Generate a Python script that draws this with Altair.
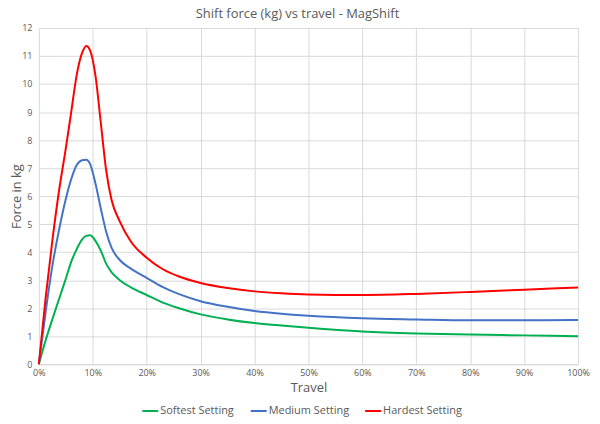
import altair as alt
import pandas as pd

travel = [0, 1.25, 2.5, 3.75, 5, 6, 7, 8, 8.8, 9.5, 10.5, 11.5, 12.5, 13.5, 15, 17,
          20, 23, 26, 30, 35, 40, 45, 50, 60, 70, 80, 90, 100]
softest = [0, 0.85, 1.6, 2.33, 3.05, 3.65, 4.1, 4.45, 4.58, 4.6, 4.4, 4.05, 3.58, 3.28,
           3.0, 2.75, 2.47, 2.2, 2.0, 1.78, 1.6, 1.47, 1.38, 1.3, 1.17, 1.1, 1.06, 1.03, 1.0]
medium = [0, 1.85, 3.5, 4.8, 5.9, 6.6, 7.1, 7.28, 7.3, 7.15, 6.45, 5.55, 4.72, 4.15,
          3.72, 3.42, 3.08, 2.75, 2.5, 2.25, 2.05, 1.9, 1.8, 1.73, 1.64, 1.6, 1.57, 1.57, 1.58]
hardest = [0, 2.35, 4.4, 6.2, 7.7, 9.0, 10.3, 11.1, 11.36, 11.2, 10.3, 8.6, 6.9, 5.85,
           5.1, 4.4, 3.8, 3.39, 3.13, 2.9, 2.72, 2.6, 2.53, 2.49, 2.47, 2.51, 2.58, 2.66, 2.74]

series_names = ["Softest Setting", "Medium Setting", "Hardest Setting"]
series_colors = ["#00B050", "#4472C4", "#FF0000"]
y_ticks = list(range(0, 13))
x_ticks = [i / 10 for i in range(11)]

rows = []
for name, vals in zip(series_names, [softest, medium, hardest]):
    for t, v in zip(travel, vals):
        rows.append({"travel": t / 100, "force": v, "series": name})
df = pd.DataFrame(rows)

FONT = "Open Sans"
GRAY = "#595959"

chart = alt.Chart(df).mark_line(strokeWidth=2, interpolate="monotone").encode(
    x=alt.X("travel:Q",
            scale=alt.Scale(domain=[0, 1], nice=False),
            axis=alt.Axis(values=x_ticks, format=".0%", title="Travel",
                          labelFontSize=9, labelPadding=4, titlePadding=4,
                          labelFlush=False,
                          domainColor="#D9D9D9", ticks=False)),
    y=alt.Y("force:Q",
            scale=alt.Scale(domain=[0, 12], nice=False),
            axis=alt.Axis(values=y_ticks, title="Force in kg",
                          labelFontSize=9, labelPadding=7, titlePadding=-2,
                          labelFlush=False,
                          domain=False, ticks=False)),
    color=alt.Color("series:N",
                    scale=alt.Scale(domain=series_names, range=series_colors),
                    legend=alt.Legend(orient="none", legendX=103, legendY=376,
                                      direction="horizontal", title=None,
                                      symbolType="stroke", symbolSize=256,
                                      symbolStrokeWidth=2, labelFontSize=11,
                                      labelOffset=1, columnPadding=12,
                                      labelColor=GRAY, labelFont=FONT)),
).properties(
    width=542,
    height=338,
    padding={"left": 31, "top": 19, "right": 14, "bottom": 58},
    autosize=alt.AutoSizeParams(type="none"),
    title=alt.Title("Shift force (kg) vs travel - MagShift", fontSize=13,
                    fontWeight="normal", color=GRAY, font=FONT, offset=3, dx=-11),
    background="white",
).configure_axis(
    gridColor="#D9D9D9",
    gridWidth=1,
    labelColor=GRAY,
    labelFont=FONT,
    titleColor=GRAY,
    titleFont=FONT,
    titleFontSize=13,
    titleFontWeight="normal",
).configure_view(stroke=None)

chart.save("out.html", embed_options={"renderer": "svg", "actions": False})
